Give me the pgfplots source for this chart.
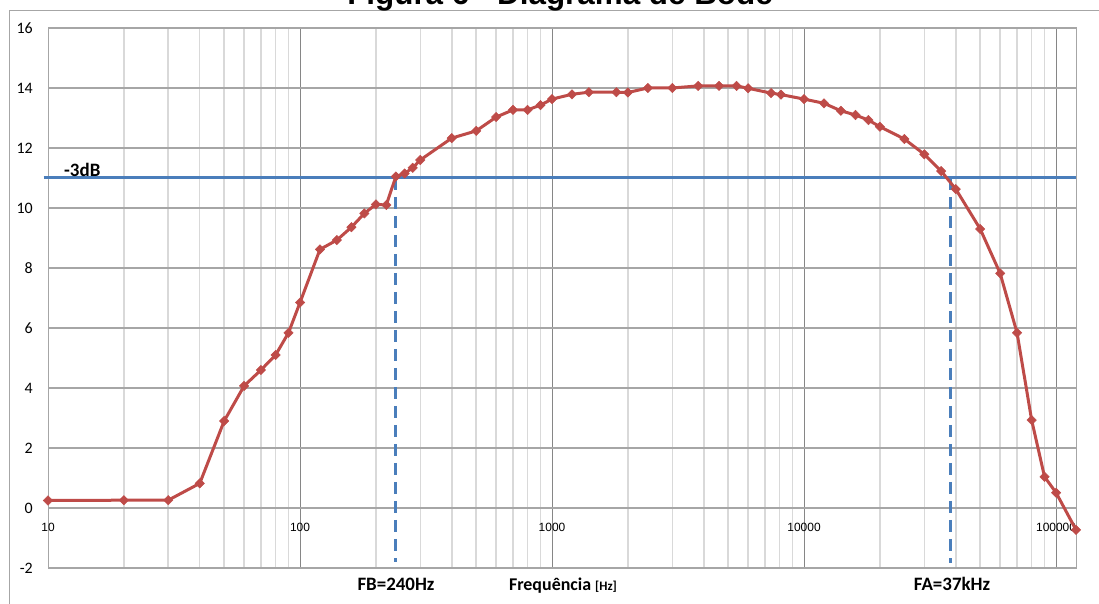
\documentclass[border=0pt]{standalone}
\usepackage{pgfplots}
\pgfplotsset{compat=1.18}
\usepackage{fontspec}
\setmainfont{Carlito}
\newfontfamily\arialfont{Liberation Sans}
\definecolor{serred}{HTML}{BE4B48}
\definecolor{serblue}{HTML}{4A7EBB}
\definecolor{gridmaj}{HTML}{868686}
\definecolor{gridh}{HTML}{A6A6A6}
\definecolor{gridmin}{HTML}{D9D9D9}
\definecolor{framec}{HTML}{A6A6A6}
\begin{document}
\begin{tikzpicture}
\useasboundingbox (0,0) rectangle (1099bp,604bp);
\draw[color=framec, line width=1bp] (9bp,-20bp) -- (9bp,593bp) -- (1130bp,593bp);
\node[font=\arialfont\bfseries\fontsize{31.5}{36}\selectfont, anchor=base, inner sep=0pt] at (560bp,599bp) {Figura 6 - Diagrama de Bode};
\begin{axis}[
  at={(48bp,36bp)}, anchor=south west,
  scale only axis, width=1028bp, height=540bp,
  xmode=log, xmin=10, xmax=120000,
  ymin=-2, ymax=16,
  ytick={-2,0,2,4,6,8,10,12,14,16},
  yticklabels={-2,0,2,4,6,8,10,12,14,16},
  xtick={10,100,1000,10000,100000},
  xticklabels={10,100,1000,10000,100000},
  minor xtick={20,30,40,50,60,70,80,90,200,300,400,500,600,700,800,900,2000,3000,4000,5000,6000,7000,8000,9000,20000,30000,40000,50000,60000,70000,80000,90000},
  xmajorgrids, xminorgrids, ymajorgrids,
  major x grid style={draw=gridmaj, line width=0.9bp},
  minor x grid style={draw=gridmin, line width=1.5bp},
  major y grid style={draw=gridh, line width=1.2bp},
  axis line style={draw=framec, line width=1bp},
  major tick length=0pt, minor tick length=0pt,
  tick style={draw=none},
  xticklabel style={font=\arialfont\fontsize{12}{14}\selectfont, anchor=center, yshift=41bp},
  yticklabel style={font=\fontsize{16}{18}\selectfont, anchor=east, inner sep=0pt, xshift=-15bp},
  clip=false,
]
\addplot[draw=serblue, line width=3bp] coordinates {(9.6,11) (120000,11)};
\addplot[draw=serblue, line width=3bp, dash pattern=on 12bp off 7bp] coordinates {(240,11) (240,-1.8)};
\addplot[draw=serblue, line width=3bp, dash pattern=on 12bp off 7bp] coordinates {(38000,11) (38000,-1.85)};
\addplot[draw=serred, line width=3bp, mark=square*, mark size=3.3bp, mark options={rotate=45, solid, fill=serred, draw=serred, line width=0.5bp}] coordinates {
(10,0.25) (20,0.26) (30,0.26) (40,0.82) (50,2.9) (60,4.07) (70,4.6) (80,5.1) (90,5.84) (100,6.85)
(120,8.62) (140,8.93) (160,9.36) (180,9.82) (200,10.12) (220,10.1) (240,11.05) (260,11.15) (280,11.34) (300,11.6)
(400,12.33) (500,12.57) (600,13.03) (700,13.27) (800,13.27) (900,13.43) (1000,13.63) (1200,13.79) (1400,13.86)
(1800,13.86) (2000,13.85) (2400,14.0) (3000,14.0) (3800,14.07) (4600,14.07) (5400,14.07) (6000,13.99)
(7400,13.83) (8100,13.78) (10000,13.63) (12000,13.49) (14000,13.24) (16000,13.1) (18000,12.93) (20000,12.71)
(25000,12.3) (30000,11.79) (35000,11.23) (40000,10.63) (50000,9.3) (60000,7.82) (70000,5.84) (80000,2.93)
(90000,1.04) (100000,0.51) (120000,-0.73)
};
\end{axis}
\node[font=\bfseries\fontsize{19}{22}\selectfont, anchor=base west, inner sep=0pt] at (64bp,427bp) {-3dB};
\node[font=\bfseries\fontsize{19}{22}\selectfont, anchor=base, inner sep=0pt] at (396bp,14bp) {FB=240Hz};
\node[font=\bfseries\fontsize{18}{22}\selectfont, anchor=base, inner sep=0pt] at (563bp,14bp) {Frequência {\fontsize{13}{15}\selectfont[Hz]}};
\node[font=\bfseries\fontsize{19}{22}\selectfont, anchor=base, inner sep=0pt] at (952bp,14bp) {FA=37kHz};
\end{tikzpicture}
\end{document}
